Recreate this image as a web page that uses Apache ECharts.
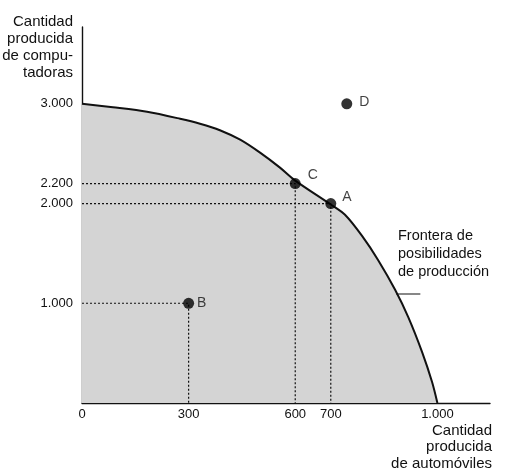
<!DOCTYPE html>
<html>
<head>
<meta charset="utf-8">
<script src="https://cdn.jsdelivr.net/npm/echarts@6/dist/echarts.min.js"></script>
<style>
html,body{margin:0;padding:0;background:#fff;}
#chart{width:521px;height:476px;}
</style>
</head>
<body>
<div id="chart"></div>
<script>
// Production possibilities frontier (autos on x, computers on y)
const frontierAutos = [0, 87, 183, 276, 332, 388, 445, 501, 557, 600, 700, 740, 788, 833, 881, 918, 957, 985, 1000];
const frontierComputers = [3000, 2965, 2920, 2850, 2800, 2735, 2640, 2510, 2360, 2230, 1990, 1887, 1675, 1434, 1135, 861, 510, 210, 0];

const pointNames = ['A', 'B', 'C', 'D'];
const pointAutos = [700, 300, 600, 745];
const pointComputers = [2000, 1000, 2200, 3000];

const xTickValues = [0, 300, 600, 700, 1000];
const yTickValues = [1000, 2000, 2200, 3000];

const yTitleLines = ['Cantidad', 'producida', 'de compu-', 'tadoras'];
const xTitleLines = ['Cantidad', 'producida', 'de automóviles'];
const frontierLabelLines = ['Frontera de', 'posibilidades', 'de producción'];

// leader line from the frontier toward its label (data units)
const leaderAutos = [884, 952];
const leaderComputers = [1093, 1093];

const fmt = v => v >= 1000 ? String(v).replace(/\B(?=(\d{3})+(?!\d))/g, '.') : String(v);

const FONT = '"Liberation Sans", Arial, sans-serif';
const chart = echarts.init(document.getElementById('chart'));

const guideSeries = ['A', 'B', 'C'].map(n => {
  const i = pointNames.indexOf(n);
  const x = pointAutos[i], y = pointComputers[i];
  return {
    type: 'line', silent: true, symbol: 'none', z: 3,
    data: [[0, y], [x, y], [x, 0]],
    lineStyle: { color: '#111', width: 1.2, type: [2, 2] }
  };
});

const labelPos = { A: [1, -6], B: [-2, 0], C: [2, -8], D: [2, -2] };

function textLines(lines, opts) {
  return lines.map((t, i) => {
    const el = {
      type: 'text', top: opts.top + i * opts.step,
      style: { text: t, font: opts.font, fill: '#111' }
    };
    if (opts.right != null) el.right = opts.right; else el.left = opts.left;
    return el;
  });
}

chart.setOption({
  animation: false,
  backgroundColor: '#fff',
  grid: { left: 82, right: 31, top: 27, bottom: 73 },
  xAxis: {
    type: 'value', min: 0, max: 1148,
    axisLine: { lineStyle: { color: '#111', width: 1.4 } },
    axisTick: { show: false },
    splitLine: { show: false },
    axisLabel: { customValues: xTickValues, formatter: fmt, color: '#111', fontSize: 13, fontFamily: FONT, margin: 5 }
  },
  yAxis: {
    type: 'value', min: 0, max: 3770,
    axisLine: { show: true, lineStyle: { color: '#111', width: 1.4 } },
    axisTick: { show: false },
    splitLine: { show: false },
    axisLabel: { customValues: yTickValues, formatter: fmt, color: '#111', fontSize: 13, fontFamily: FONT, margin: 9 }
  },
  series: [
    {
      type: 'line', silent: true, symbol: 'none', smooth: 0.3, z: 2,
      data: frontierAutos.map((x, i) => [x, frontierComputers[i]]),
      lineStyle: { color: '#111', width: 2 },
      areaStyle: { color: '#d4d4d4', opacity: 1 }
    },
    ...guideSeries,
    {
      type: 'line', silent: true, symbol: 'none', z: 4,
      data: leaderAutos.map((x, i) => [x, leaderComputers[i]]),
      lineStyle: { color: '#111', width: 1.2 }
    },
    {
      type: 'scatter', z: 5, symbolSize: 11,
      itemStyle: { color: '#000' },
      data: pointNames.map((n, i) => ({
        value: [pointAutos[i], pointComputers[i]],
        label: { show: true, formatter: n, position: 'right', offset: labelPos[n], color: '#111', fontSize: 14, fontFamily: FONT }
      }))
    }
  ],
  graphic: [
    ...textLines(yTitleLines, { right: 448, top: 14, step: 17, font: '15px ' + FONT }),
    ...textLines(xTitleLines, { right: 29, top: 423, step: 16.5, font: '15px ' + FONT }),
    ...textLines(frontierLabelLines, { left: 398, top: 228, step: 18, font: '14.5px ' + FONT })
  ]
});
</script>
</body>
</html>
